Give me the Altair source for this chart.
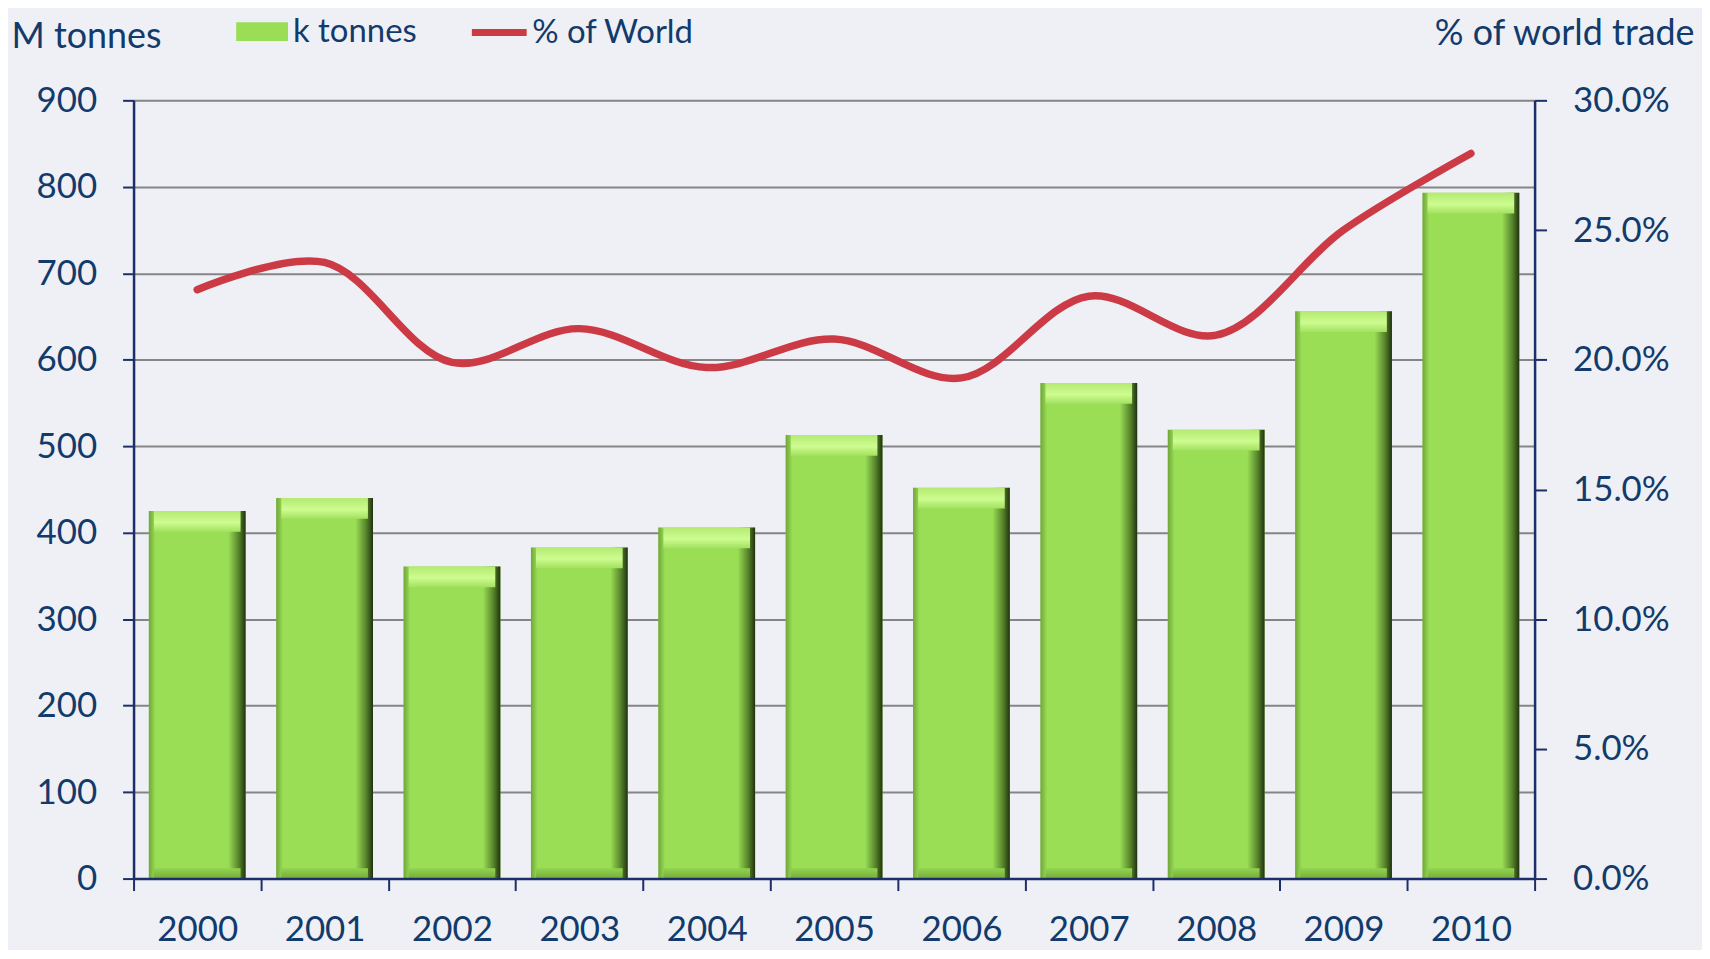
import altair as alt
import pandas as pd

# ---- data ----
years = ["2000", "2001", "2002", "2003", "2004", "2005", "2006", "2007", "2008", "2009", "2010"]
tonnes = [425, 440, 361, 383, 406, 513, 452, 573, 519, 656, 793]
share = [0.227, 0.2375, 0.199, 0.212, 0.197, 0.208, 0.193, 0.2245, 0.2095, 0.250, 0.2795]
left_ticks = [0, 100, 200, 300, 400, 500, 600, 700, 800, 900]
right_ticks = [0.0, 0.05, 0.10, 0.15, 0.20, 0.25, 0.30]
bar_name = "k tonnes"
line_name = "% of World"

df = pd.DataFrame({"year": years, "tonnes": tonnes, "share": share})
df["bar_series"] = bar_name
df["line_series"] = line_name

FONT = "Lato, Liberation Sans, sans-serif"
NAVY = "#123a6b"
AXIS = "#1c2f6b"
GREEN = "#9ade55"
RED = "#cc3b45"
TICK_FS = 35
TITLE_FS = 36
LEG_FS = 33

x_axis = alt.Axis(title=None, tickBand="extent", labelAngle=0, domainColor=AXIS,
                  domainWidth=2.5, tickColor=AXIS, tickWidth=2, tickSize=12,
                  labelPadding=22, labelFontSize=TICK_FS, labelColor=NAVY, labelFont=FONT,
                  grid=False, zindex=1)
x_scale = alt.Scale(paddingInner=0, paddingOuter=0)


def xe():
    return alt.X("year:N", sort=years, scale=x_scale, axis=x_axis)


y_axis = alt.Axis(values=left_ticks, title="M tonnes", titleAngle=0, titleX=-123, titleY=-64,
                  titleAlign="left", titleBaseline="middle", titleFontSize=TITLE_FS, titleFont=FONT,
                  titleColor=NAVY, titleFontWeight="normal", grid=True, gridColor="#858585",
                  gridWidth=2, domainColor=AXIS, domainWidth=2.5, tickColor=AXIS, tickWidth=2,
                  tickSize=11, labelPadding=26, labelFontSize=TICK_FS, labelColor=NAVY,
                  labelFont=FONT)
y_scale = alt.Scale(domain=[0, 900], nice=False)

base = alt.Chart(df)

bars = base.mark_bar(width=alt.RelativeBandSize(0.76)).encode(
    x=xe(),
    y=alt.Y("tonnes:Q", scale=y_scale, axis=y_axis),
    fill=alt.Fill("bar_series:N", scale=alt.Scale(domain=[bar_name], range=[GREEN]),
                  legend=alt.Legend(title=None, orient="none", legendX=103, legendY=-95,
                                    symbolType="M-1,-0.36L1,-0.36L1,0.36L-1,0.36Z",
                                    symbolSize=2704, symbolStrokeWidth=0, symbolOpacity=1,
                                    labelFontSize=LEG_FS, labelFont=FONT, labelColor=NAVY,
                                    labelOffset=5, labelLimit=400, padding=0)),
)

side_shade = base.mark_bar(
    width=alt.RelativeBandSize(0.76),
    fill=alt.Gradient(gradient="linear", x1=0, x2=1, y1=0, y2=0, stops=[
        alt.GradientStop(offset=0, color="rgba(70,110,30,0.5)"),
        alt.GradientStop(offset=0.07, color="rgba(70,110,30,0)"),
        alt.GradientStop(offset=0.82, color="rgba(40,70,15,0)"),
        alt.GradientStop(offset=0.92, color="rgba(40,70,15,0.55)"),
        alt.GradientStop(offset=1, color="rgba(25,40,10,0.95)"),
    ]),
).encode(x=xe(), y=alt.Y("tonnes:Q", scale=y_scale, axis=y_axis))

top_bevel = base.transform_calculate(bev="datum.tonnes - 24").mark_bar(
    width=alt.RelativeBandSize(0.68),
    fill=alt.Gradient(gradient="linear", x1=0, x2=0, y1=0, y2=1, stops=[
        alt.GradientStop(offset=0, color="#b4ea72"),
        alt.GradientStop(offset=0.55, color="#cdfc90"),
        alt.GradientStop(offset=1, color="#a2e15e"),
    ]),
).encode(x=xe(), y=alt.Y("tonnes:Q", scale=y_scale, axis=y_axis), y2="bev:Q")

bottom_bevel = base.transform_calculate(b0="0", b1="12").mark_bar(
    width=alt.RelativeBandSize(0.68),
    fill=alt.Gradient(gradient="linear", x1=0, x2=0, y1=0, y2=1, stops=[
        alt.GradientStop(offset=0, color="#92d34f"),
        alt.GradientStop(offset=1, color="#74ad3c"),
    ]),
).encode(x=xe(), y=alt.Y("b1:Q", scale=y_scale, axis=y_axis), y2="b0:Q")

bar_layer = alt.layer(bars, side_shade, top_bevel, bottom_bevel)

line = base.mark_line(strokeWidth=7.5, interpolate="catmull-rom", strokeCap="round").encode(
    x=xe(),
    y=alt.Y("share:Q", scale=alt.Scale(domain=[0, 0.3], nice=False),
            axis=alt.Axis(orient="right", values=right_ticks, format=".1%",
                          title="% of world trade", titleAngle=0, titleX=160, titleY=-67,
                          titleAlign="right", titleBaseline="middle", titleFontSize=TITLE_FS,
                          titleFont=FONT, titleColor=NAVY, titleFontWeight="normal",
                          grid=False, domainColor=AXIS, domainWidth=2.5, tickColor=AXIS,
                          tickWidth=2, tickSize=12, labelPadding=26, labelFontSize=TICK_FS,
                          labelColor=NAVY, labelFont=FONT)),
    stroke=alt.Stroke("line_series:N", scale=alt.Scale(domain=[line_name], range=[RED]),
                      legend=alt.Legend(title=None, orient="none", legendX=336, legendY=-99,
                                        symbolType="stroke", symbolSize=3025,
                                        symbolStrokeWidth=7, labelFontSize=LEG_FS,
                                        labelFont=FONT, labelColor=NAVY, labelOffset=2,
                                        labelLimit=400, padding=0)),
)

chart = alt.layer(bar_layer, line).resolve_scale(
    y="independent", fill="independent", stroke="independent"
).properties(
    width=1406, height=781,
    padding={"left": 126, "top": 91, "right": 168, "bottom": 70},
    autosize=alt.AutoSizeParams(type="none"),
    background="#eef0f6",
).configure_view(stroke=None)

chart.save("out.html", embed_options={"renderer": "svg", "actions": False})
